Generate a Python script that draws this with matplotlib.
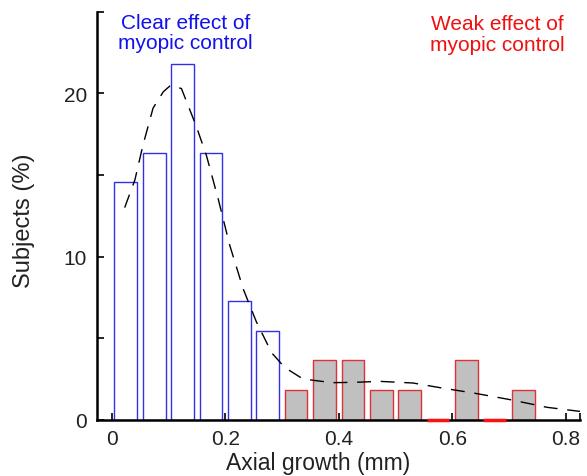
import matplotlib
matplotlib.use("Agg")
import matplotlib.pyplot as plt
import numpy as np

plt.rcParams['font.family'] = ['Liberation Sans', 'DejaVu Sans']

# Histogram bin centers (mm) and percentages of subjects
clear_centers = [0.025, 0.075, 0.125, 0.175, 0.225, 0.275]
clear_pct = [14.55, 16.36, 21.82, 16.36, 7.27, 5.45]
weak_centers = [0.325, 0.375, 0.425, 0.475, 0.525, 0.575, 0.625, 0.675, 0.725]
weak_pct = [1.82, 3.64, 3.64, 1.82, 1.82, 0.0, 3.64, 0.0, 1.82]

# Fitted density curve (dashed)
fit_x = [0.023, 0.041, 0.055, 0.073, 0.091, 0.104, 0.123, 0.149, 0.167, 0.188,
         0.208, 0.232, 0.255, 0.282, 0.305, 0.337, 0.388, 0.426, 0.473, 0.531,
         0.584, 0.637, 0.702, 0.767, 0.825]
fit_y = [13.0, 14.7, 16.8, 19.1, 20.1, 20.5, 20.3, 18.0, 16.2, 13.5,
         10.7, 8.0, 6.0, 4.1, 3.2, 2.5, 2.27, 2.29, 2.35, 2.25,
         1.93, 1.64, 1.23, 0.76, 0.51]

x_ticks = [0, 0.2, 0.4, 0.6, 0.8]
x_ticklabels = ['0', '0.2', '0.4', '0.6', '0.8']
y_ticks = [0, 10, 20]

fig = plt.figure(figsize=(5.87, 4.77), dpi=100)
ax = fig.add_axes([0.165, 0.118, 0.823, 0.855])

bw = 0.04
ax.bar(clear_centers, clear_pct, width=bw, color='white', edgecolor='#3030e6',
       linewidth=1.0, zorder=2)
ax.bar(weak_centers, weak_pct, width=bw, color='#c0c0c0', edgecolor='#e0303a',
       linewidth=1.0, zorder=2)
# empty bins highlighted on baseline
for c, v in zip(weak_centers, weak_pct):
    if v == 0:
        ax.plot([c - bw / 2, c + bw / 2], [0, 0], color='#ff1010', lw=2.5,
                zorder=4, solid_capstyle='butt', clip_on=False)

ax.plot(fit_x, fit_y, color='black', lw=1.0, dashes=(10, 7), zorder=5,
        clip_on=False)

ax.set_xlim(-0.026, 0.825)
ax.set_ylim(0, 25)
ax.set_xticks(x_ticks)
ax.set_xticklabels(x_ticklabels)
ax.set_yticks(y_ticks)
ax.set_yticks([5, 15, 25], minor=True)
ax.set_xticks([0.825], minor=True)

for s in ['top', 'right']:
    ax.spines[s].set_visible(False)
for s in ['left', 'bottom']:
    ax.spines[s].set_linewidth(1.8)
    ax.spines[s].set_zorder(3)

ax.tick_params(axis='both', which='both', direction='in', width=1.2,
               labelsize=15, colors='black')
ax.tick_params(axis='both', which='major', length=5, pad=7)
ax.tick_params(axis='both', which='minor', length=5)
for lab in ax.get_xticklabels() + ax.get_yticklabels():
    lab.set_color('#222222')

ax.set_xlabel('Axial growth (mm)', fontsize=16.5, color='#222222')
ax.xaxis.set_label_coords(0.457, -0.077)
ax.set_ylabel('Subjects (%)', fontsize=17, color='#222222')
ax.yaxis.set_label_coords(-0.128, 0.49)

ax.text(0.13, 24.95, 'Clear effect of\nmyopic control', color='#1010f0',
        fontsize=15, ha='center', va='top', linespacing=1.08)
ax.text(0.68, 24.85, 'Weak effect of\nmyopic control', color='#f01010',
        fontsize=15, ha='center', va='top', linespacing=1.08)

fig.savefig('out.png', dpi=100)
